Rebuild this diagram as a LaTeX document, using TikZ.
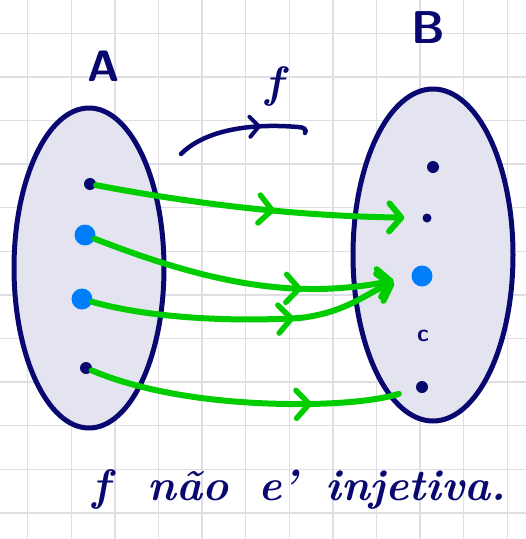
\documentclass[tikz,border=0pt]{standalone}
\usetikzlibrary{arrows.meta,decorations.markings,shapes.geometric}
\definecolor{navy}{RGB}{8,8,112}
\definecolor{dotblue}{RGB}{0,125,250}
\definecolor{grn}{RGB}{0,205,0}
\definecolor{setfill}{RGB}{228,228,240}
\definecolor{gridc}{RGB}{222,222,228}
\tikzset{
  setbox/.style={ellipse, draw=navy, fill=setfill, line width=5pt, inner sep=0pt},
  ndot/.style={circle, fill=navy, inner sep=0pt, minimum size=#1},
  ndot/.default=12pt,
  bdot/.style={circle, fill=dotblue, inner sep=0pt, minimum size=21pt},
  map/.style={draw=grn, line width=6pt, line cap=round, line join=round, shorten >=18pt},
  endtip/.style={-{Straight Barb[length=12pt 0, width=28pt 0, line width=6pt, line cap=round, line join=round]}},
  midchev/.style={postaction={decorate}, decoration={markings, mark=at position #1 with {\arrow[grn]{Straight Barb[length=13pt 0, width=28pt 0, line width=5.5pt, line cap=round, line join=round]}}}},
  fchev/.style={postaction={decorate}, decoration={markings, mark=at position #1 with {\arrow[navy]{Straight Barb[length=9pt 0, width=20pt 0, line width=4pt, line cap=round, line join=round]}}}},
  hand/.style={text=navy, inner sep=0pt},
}
\begin{document}
\begin{tikzpicture}[x=1pt,y=-1pt]
\useasboundingbox (0,0) rectangle (526,539);
\fill[white] (0,0) rectangle (526,539);
% grid paper
\foreach \i in {0,...,11} {
  \draw[gridc, line width=1.5pt] ({27.7+43.6*\i},0) -- ({27.7+43.6*\i},539);
  \draw[gridc, line width=1.5pt] (0,{33.3+43.6*\i}) -- (526,{33.3+43.6*\i});
}
% sets
\node[setbox, minimum width=150pt, minimum height=320pt] (A) at (89,268) {};
\node[setbox, minimum width=160pt, minimum height=332pt] (B) at (433,255) {};
\node[hand, font=\sffamily\bfseries\fontsize{44}{44}\selectfont] (labA) at (104,66) {A};
\node[hand, font=\sffamily\bfseries\fontsize{46}{46}\selectfont] (labB) at (428,28) {B};
% elements
\node[ndot] (a1) at (90,184) {};
\node[bdot] (a2) at (85,235) {};
\node[bdot] (a3) at (82,299) {};
\node[ndot] (a4) at (86,368) {};
\node[ndot] (b1) at (433,167) {};
\node[ndot=9pt] (b2) at (427,218) {};
\node[bdot] (b3) at (422,276) {};
\node[hand, font=\sffamily\bfseries\fontsize{24}{24}\selectfont] (b4) at (423,336) {c};
\node[ndot] (b5) at (422,387) {};
% function f
\coordinate (fs) at (181,154);
\coordinate (fe) at (305,133);
\draw[navy, line width=4.5pt, line cap=round, fchev=0.64] (fs) .. controls (205,130) and (250,123) .. (298,127) .. controls (304,127) and (307,130) .. (fe);
\node[hand, font=\bfseries\itshape\fontsize{44}{44}\selectfont] (flab) at (274,86) {f};
% mappings
\draw[map, endtip, midchev=0.55] (a1) .. controls (200,205) and (300,216) .. (b2);
\draw[map, endtip, midchev=0.66] (a2) .. controls (180,272) and (250,290) .. (320,289) .. controls (360,288) and (385,282) .. (b3);
\draw[map, endtip, midchev=0.62] (a3) .. controls (150,318) and (230,322) .. (300,318) .. controls (350,312) and (370,290) .. (b3);
\draw[map, midchev=0.68] (a4) .. controls (150,395) and (230,405) .. (310,404) .. controls (360,403) and (385,398) .. (b5);
% statement
\node[hand, anchor=base west, font=\bfseries\itshape\fontsize{44}{44}\selectfont] (stmt) at (92,500) {f\hspace{38pt}não\hspace{30pt}e’\hspace{28pt}injetiva.};
\end{tikzpicture}
\end{document}
